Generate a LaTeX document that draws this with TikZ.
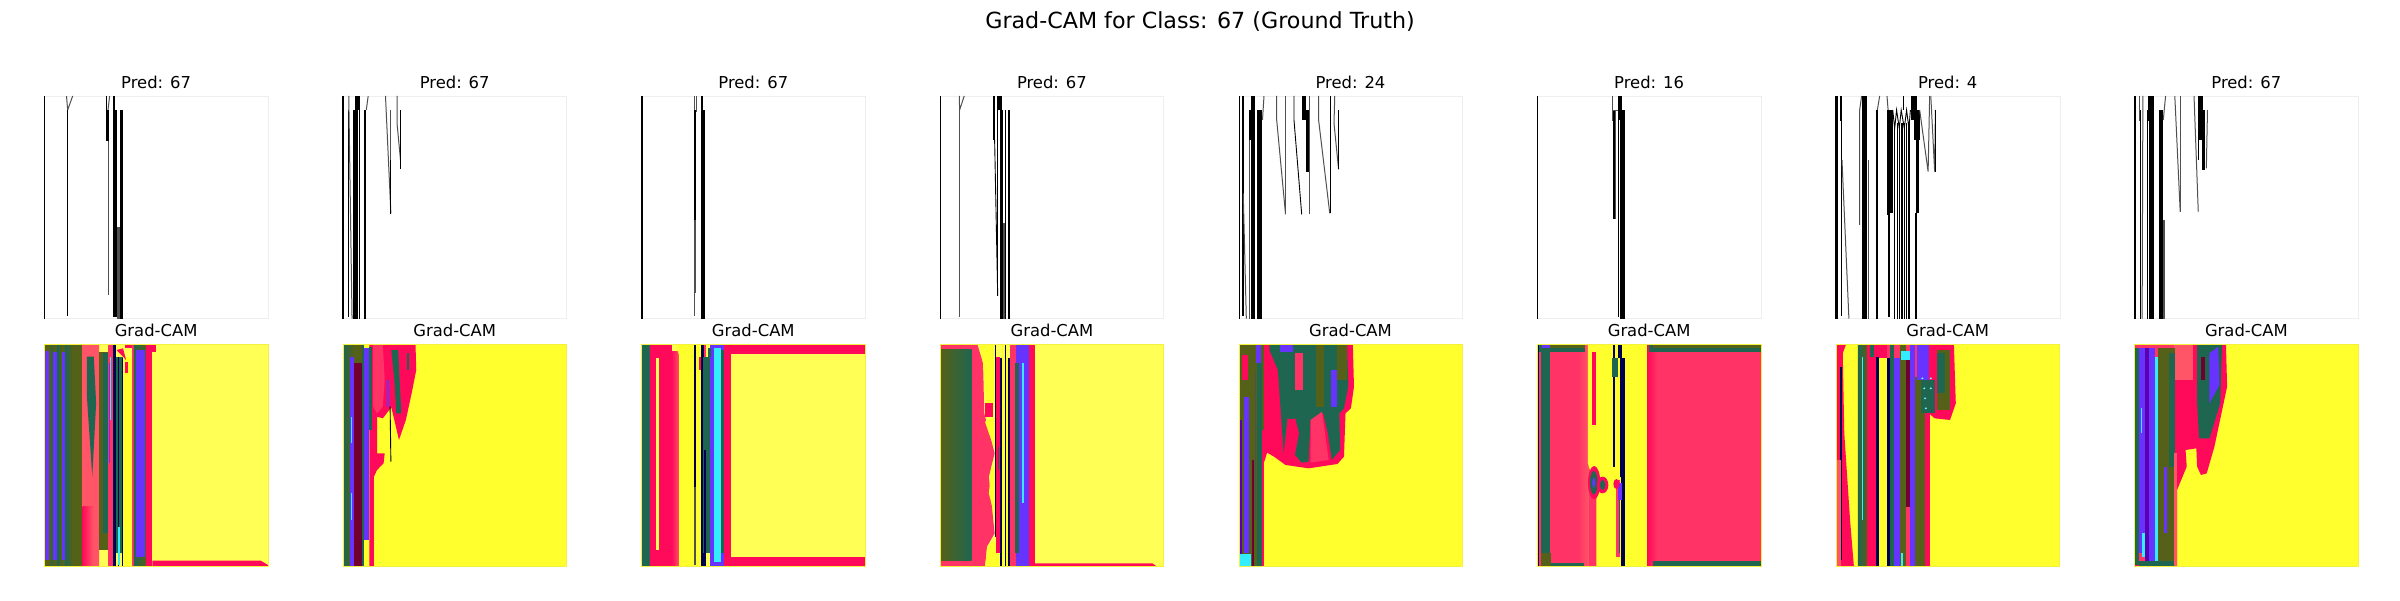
\documentclass[tikz,border=0pt]{standalone}
\usepackage{fontspec}
\setmainfont{DejaVu Sans}
\definecolor{ybr}{HTML}{FFFF2D}
\definecolor{ylt}{HTML}{FFFF55}
\definecolor{crim}{HTML}{FF0A5A}
\definecolor{pnk}{HTML}{FF3366}
\definecolor{pk2}{HTML}{FF5566}
\definecolor{teal}{HTML}{1F6650}
\definecolor{oliv}{HTML}{556018}
\definecolor{purp}{HTML}{6633FF}
\definecolor{dpur}{HTML}{5A00B0}
\definecolor{navy}{HTML}{000050}
\definecolor{cyn}{HTML}{33EEFF}
\definecolor{dred}{HTML}{700030}
\definecolor{frm}{HTML}{EEEEEE}
\definecolor{yfr}{HTML}{F4F040}
\definecolor{gy}{HTML}{505050}
\newcommand\Rc[5]{\fill[#1] (#2,#4) rectangle (#3,#5);}
\newcommand\Sh[6]{\shade[left color=#1,right color=#2,shading angle=90] (#3,#5) rectangle (#4,#6);}
\newcommand\Pg[2]{\fill[#1] #2 -- cycle;}
\tikzset{
 pan/.style n args={3}{shift={({#1pt-#2*0.3845pt},{-(#3)*1pt})},x=0.3845pt,y=-0.3333pt},
 tk/.style={draw=black,line width=.9pt},
 tg/.style={draw=gy,line width=1pt},
 md/.style={draw=black,line width=1.5pt},
 ttl/.style={anchor=base,inner sep=0pt,font=\fontsize{16.4}{20}\selectfont,text=black},
 sup/.style={anchor=base,inner sep=0pt,font=\fontsize{22.2}{26}\selectfont,text=black},
 fr/.style={draw=frm,line width=.8pt},
 fy/.style={draw=yfr,line width=.8pt}
}
\begin{document}
\begin{tikzpicture}[x=1pt,y=-1pt]
\useasboundingbox[fill=white] (0,0) rectangle (2400,600);
\node[sup] (title) at (1200,28) {Grad-CAM for Class: 67 (Ground Truth)};
\foreach \n/\L/\t in {1/44.6/67,2/343.2/67,3/641.8/67,4/940.4/67,5/1239/24,6/1537.6/16,7/1836.2/4,8/2134.8/67}{
 \node[ttl] (p\n) at (\L+111.5,88) {Pred: \t};
 \node[ttl] (g\n) at (\L+111.5,336) {Grad-CAM};
}
% ---- top row ----
\begin{scope}[pan={44.6}{119}{60}]
\draw[fr] (119,108) rectangle (700,776);
\draw[md] (119,108)--(119,776);
\draw[tg] (176,108)--(179,150)--(192,108);
\draw[md] (178,150)--(178,768);
\Rc{black}{279}{286}{150}{242}
\draw[tk] (279,108)--(279,150);\draw[tg] (288,108)--(284,150);
\draw[tg] (285,242)--(285,706);
\Rc{black}{296}{302}{108}{150}
\Rc{black}{297}{308}{150}{772}
\Rc{gy}{308}{314}{500}{776}
\Rc{black}{314}{322}{150}{776}
\end{scope}
\begin{scope}[pan={343.2}{897}{60}]
\draw[fr] (897,108) rectangle (1478,776);
\draw[md] (897,108)--(897,776);
\draw[tk] (910,150)--(910,770);\draw[tg] (912,108)--(912,150)--(920,776);
\Rc{black}{928}{941}{108}{150}
\Rc{black}{923}{935}{150}{776}
\Rc{black}{937}{941}{150}{776}
\Rc{black}{950}{956}{150}{776}
\draw[tg] (962,108)--(957,150);
\draw[tg] (1007,108)--(1021,460);\draw[tk] (1021,300)--(1021,462);\draw[tg] (1021,150)--(1021,300);
\draw[tg] (1037,108)--(1037,190)--(1046,300);
\draw[tk] (1046,150)--(1046,328);
\end{scope}
\begin{scope}[pan={641.8}{107}{60}]
\draw[fr] (107,108) rectangle (688,776);
\draw[md] (107,108)--(107,776);
\draw[tg] (243,108)--(243,768);\draw[tg] (250,108)--(250,155);
\Rc{black}{243}{249}{150}{480}
\Rc{gy}{245}{249}{480}{700}
\Rc{black}{261}{267}{108}{180}
\Rc{black}{262}{272}{150}{776}
\end{scope}
\begin{scope}[pan={940.4}{889}{60}]
\draw[fr] (889,108) rectangle (1470,776);
\draw[md] (889,108)--(889,776);
\draw[tg] (938,108)--(939,150)--(951,108);
\draw[tg] (939,150)--(939,770);
\Rc{black}{1026}{1031}{108}{240}
\draw[tk] (1030,240)--(1038,708);\draw[tk] (1038,108)--(1038,708);
\Rc{black}{1040}{1048}{108}{150}
\Rc{black}{1045}{1052}{150}{776}
\Rc{gy}{1052}{1056}{490}{776}
\draw[tk] (1057,150)--(1057,776);
\Rc{black}{1064}{1069}{150}{776}
\end{scope}
\begin{scope}[pan={1239}{99}{60}]
\draw[fr] (99,108) rectangle (681,776);
\Rc{black}{99}{102}{108}{776}
\Rc{black}{106}{111}{108}{768}
\draw[tg] (110,400)--(118,776);
\Rc{black}{130}{141}{108}{150}
\Rc{black}{125}{140}{150}{240}
\Rc{black}{131}{140}{240}{776}
\draw[tg] (126,240)--(126,776);
\Rc{black}{147}{158}{150}{776}
\draw[tg] (164,108)--(160,180);
\draw[tg] (197,108)--(197,180)--(220,463);\draw[tg] (221,108)--(221,463);
\draw[tk] (242,108)--(242,180)--(262,463);
\Rc{black}{262}{274}{108}{180}
\Rc{black}{272}{281}{150}{335}
\draw[tg] (283,108)--(283,463);
\draw[tg] (306,108)--(306,180)--(335,460);\draw[tk] (336,108)--(336,460);
\draw[tg] (348,108)--(346,190)--(358,328);\draw[tk] (358,150)--(358,328);
\end{scope}
\begin{scope}[pan={1537.6}{879}{60}]
\draw[fr] (879,108) rectangle (1460,776);
\draw[md] (879,108)--(879,776);
\draw[tg] (1074,108)--(1074,182);\draw[tg] (1081,150)--(1081,476);
\Rc{black}{1074}{1079}{150}{476}
\draw[tg] (1072,152)--(1090,152);
\Rc{black}{1087}{1098}{108}{180}
\draw[tk] (1090,150)--(1090,770);
\Rc{black}{1093}{1105}{150}{240}
\Rc{black}{1093}{1106}{240}{776}
\end{scope}
\begin{scope}[pan={1836.2}{89}{60}]
\draw[fr] (89,108) rectangle (671,776);
\draw[md] (89,108)--(89,776);\draw[tk] (92,108)--(92,776);
\Rc{black}{99}{104}{108}{182}
\draw[tk] (103,182)--(103,768);\draw[tg] (104,300)--(122,776);
\draw[tg] (150,495)--(150,150)--(155,108);
\Rc{black}{155}{168}{108}{235}
\Rc{black}{157}{168}{235}{776}
\draw[tg] (172,300)--(172,776);
\Rc{black}{193}{198}{150}{776}
\draw[tg] (202,108)--(196,150);
\draw[tg] (221,108)--(224,150);
\Rc{black}{221}{229}{150}{465}
\Rc{black}{223}{229}{465}{770}
\Rc{black}{230}{236}{150}{460}
\draw[tk] (236,150)--(241,205)--(246,150)--(253,205)--(258,150)--(266,205)--(272,150)--(278,205)--(282,150);
\foreach \q in {241,248,254,260,267,272,278}{\draw[md] (\q,190)--(\q,776);}
\draw[tk] (265,108)--(265,150);
\Rc{black}{284}{298}{108}{180}
\Rc{black}{290}{306}{150}{240}
\Rc{black}{296}{303}{240}{460}
\draw[md] (297,460)--(297,776);
\draw[tg] (306,150)--(328,335)--(332,108);
\draw[tg] (335,108)--(345,335)--(347,150);
\draw[md] (347,150)--(347,335);
\end{scope}
\begin{scope}[pan={2134.8}{868}{60}]
\draw[fr] (868,108) rectangle (1449,776);
\draw[md] (868,108)--(868,776);
\draw[tg] (880,108)--(880,182);\draw[tk] (883,150)--(883,776);
\draw[tg] (889,108)--(887,776);
\Rc{black}{899}{902}{150}{776}
\Rc{black}{902}{918}{108}{182}
\Rc{black}{906}{917}{182}{776}
\Rc{black}{932}{941}{150}{776}
\Rc{gy}{941}{947}{480}{776}
\draw[tg] (948,108)--(942,180);
\draw[tg] (972,108)--(986,455);\draw[tg] (987,108)--(987,455);
\draw[tg] (1022,108)--(1033,455);\draw[tk] (1033,108)--(1033,300);
\Rc{black}{1036}{1045}{108}{240}
\Rc{black}{1043}{1050}{150}{330}
\draw[tg] (1057,150)--(1054,325);
\end{scope}
% ---- bottom row ----
\begin{scope}[pan={44.6}{118}{320}]
\clip (118,72) rectangle (699,740);
\Rc{ylt}{118}{699}{72}{740}
\Rc{oliv}{118}{217}{72}{740}
\Sh{purp}{purp}{118}{130}{95}{720}\Sh{oliv}{teal}{130}{140}{72}{740}
\Rc{purp}{140}{152}{95}{720}\Sh{teal}{oliv}{152}{162}{72}{740}
\Rc{purp}{162}{172}{95}{720}\Sh{teal}{oliv}{172}{190}{72}{740}
\Sh{pk2}{pk2}{217}{260}{72}{740}
\Sh{crim}{pk2}{217}{245}{560}{740}
\Pg{teal}{(228,110)--(246,110)--(252,250)--(242,470)--(228,230)}
\Rc{oliv}{260}{283}{95}{690}
\Rc{teal}{270}{283}{100}{640}
\Rc{pnk}{283}{297}{72}{740}
\Rc{teal}{296}{322}{112}{700}
\Rc{navy}{297}{303}{72}{740}
\Rc{purp}{285}{289}{130}{430}
\Rc{cyn}{288}{290}{110}{300}
\Rc{navy}{308}{312}{110}{740}
\Rc{cyn}{310}{313}{620}{735}
\Rc{navy}{318}{322}{115}{740}
\Rc{ybr}{322}{345}{110}{740}
\Pg{crim}{(305,90)--(322,85)--(330,120)--(322,110)}
\Rc{crim}{328}{345}{72}{85}
\Rc{crim}{328}{335}{125}{160}
\Rc{pnk}{345}{352}{72}{740}
\Sh{teal}{oliv}{350}{382}{72}{740}
\Rc{purp}{356}{378}{90}{710}
\Rc{crim}{382}{398}{72}{740}
\Rc{crim}{398}{408}{72}{95}
\Pg{crim}{(398,722)--(680,722)--(699,735)--(699,740)--(398,740)}
\end{scope}
\draw[fy] (44.6,344) rectangle ++(223.4,222.7);
\begin{scope}[pan={343.2}{897}{320}]
\clip (897,72) rectangle (1478,740);
\Rc{ybr}{897}{1478}{72}{740}
\Pg{crim}{(965,72)--(1085,72)--(1087,150)--(1075,220)--(1060,300)--(1042,360)--(1030,300)--(1022,262)--(1000,295)--(985,290)--(985,400)--(1005,400)--(1002,430)--(985,450)--(977,470)--(977,740)--(965,740)}
\Pg{pnk}{(975,72)--(1000,72)--(1005,180)--(1000,260)--(985,280)--(975,260)}
\Sh{teal}{oliv}{897}{925}{72}{740}
\Rc{purp}{915}{925}{110}{740}
\Rc{dred}{925}{945}{72}{740}
\Rc{oliv}{925}{945}{72}{130}
\Rc{purp}{945}{965}{85}{660}
\Rc{teal}{945}{950}{72}{740}
\Rc{teal}{965}{972}{80}{330}
\Rc{cyn}{916}{918}{290}{370}
\Rc{cyn}{917}{919}{520}{600}
\Pg{teal}{(1022,90)--(1040,90)--(1048,280)--(1035,280)--(1030,180)}
\Rc{teal}{1064}{1069}{100}{150}
\Rc{purp}{1012}{1015}{180}{260}
\draw[tk] (1019,260)--(1021,425);
\end{scope}
\draw[fy] (343.2,344) rectangle ++(223.4,222.7);
\begin{scope}[pan={641.8}{107}{320}]
\clip (107,72) rectangle (688,740);
\Rc{ylt}{107}{688}{72}{740}
\Rc{teal}{107}{128}{72}{740}
\Sh{crim}{crim}{128}{185}{72}{740}
\Sh{crim}{pk2}{185}{205}{95}{740}
\Rc{ylt}{145}{152}{115}{690}
\Rc{ybr}{203}{243}{95}{740}
\Pg{ybr}{(195,72)--(243,72)--(243,100)--(205,110)}
\Rc{navy}{243}{248}{72}{500}
\Rc{gy}{243}{248}{500}{735}
\Rc{ybr}{248}{262}{72}{740}
\Rc{navy}{261}{268}{72}{740}
\Rc{crim}{255}{262}{110}{150}
\Rc{pnk}{268}{275}{72}{110}
\Rc{teal}{265}{288}{110}{700}
\Rc{navy}{268}{274}{390}{740}
\Rc{purp}{285}{322}{72}{740}
\Rc{teal}{278}{288}{85}{110}
\Rc{cyn}{296}{314}{85}{725}
\Rc{teal}{313}{322}{90}{700}
\Rc{crim}{322}{340}{72}{740}
\Rc{crim}{340}{688}{72}{101}
\Rc{crim}{340}{688}{710}{740}
\end{scope}
\draw[fy] (641.8,344) rectangle ++(223.4,222.7);
\begin{scope}[pan={940.4}{889}{320}]
\clip (889,72) rectangle (1470,740);
\Rc{ylt}{889}{1470}{72}{740}
\Pg{pnk}{(889,72)--(985,72)--(1000,130)--(1003,280)--(1030,400)--(1015,470)--(1030,640)--(1010,680)--(1005,740)--(889,740)}
\Pg{ybr}{(990,72)--(1030,72)--(1030,260)--(1008,250)--(1000,130)}
\Pg{ybr}{(1005,305)--(1030,290)--(1032,390)--(1015,340)}
\Pg{ybr}{(1022,440)--(1032,440)--(1035,610)--(1015,520)}
\Pg{ybr}{(1012,680)--(1030,660)--(1048,740)--(1005,740)}
\Rc{crim}{1005}{1025}{250}{290}
\Sh{oliv}{teal}{889}{970}{88}{722}
\Rc{navy}{1030}{1034}{72}{650}
\Rc{crim}{1034}{1045}{110}{700}
\Rc{navy}{1045}{1050}{115}{740}
\Rc{ybr}{1050}{1057}{72}{740}
\Rc{navy}{1057}{1060}{72}{740}
\Rc{ybr}{1060}{1065}{115}{740}
\Rc{navy}{1065}{1069}{115}{740}
\Rc{teal}{1039}{1042}{380}{450}
\Rc{pnk}{1069}{1085}{72}{740}
\Rc{purp}{1085}{1120}{72}{740}
\Rc{teal}{1084}{1094}{130}{700}
\Rc{cyn}{1100}{1106}{130}{550}
\Rc{crim}{1120}{1135}{72}{740}
\Pg{crim}{(1135,730)--(1440,730)--(1450,738)--(1135,738)}
\end{scope}
\draw[fy] (940.4,344) rectangle ++(223.4,222.7);
\begin{scope}[pan={1239}{99}{320}]
\clip (99,72) rectangle (681,740);
\Rc{ybr}{99}{681}{72}{740}
\Pg{crim}{(160,72)--(395,72)--(398,200)--(390,265)--(376,280)--(372,410)--(355,432)--(280,445)--(220,435)--(190,410)--(172,398)--(165,425)--(160,425)}
\Pg{teal}{(195,72)--(380,72)--(383,200)--(372,265)--(360,280)--(362,390)--(340,420)--(330,340)--(318,280)--(300,292)--(285,300)--(280,425)--(262,428)--(245,405)--(240,300)--(225,295)--(215,400)--(200,150)--(178,90)--(178,72)}
\Pg{crim}{(230,300)--(245,295)--(255,340)--(245,400)--(232,375)}
\Pg{pnk}{(285,300)--(315,275)--(332,420)--(285,428)}
\Rc{purp}{338}{355}{150}{262}
\Rc{purp}{205}{240}{72}{95}
\Rc{oliv}{355}{380}{72}{180}
\Rc{oliv}{300}{320}{72}{260}
\Rc{pnk}{245}{265}{100}{210}
\Rc{oliv}{99}{165}{72}{740}
\Rc{dpur}{99}{107}{300}{740}
\Rc{purp}{112}{125}{230}{700}
\Rc{crim}{107}{122}{105}{180}
\Rc{oliv}{125}{140}{72}{740}
\Rc{dred}{132}{138}{420}{740}
\Rc{purp}{142}{155}{72}{130}
\Rc{teal}{145}{160}{130}{740}
\Rc{crim}{160}{165}{330}{740}
\Rc{cyn}{100}{130}{702}{740}
\draw[tg] (141,150)--(141,600);
\end{scope}
\draw[fy] (1239,344) rectangle ++(223.4,222.7);
\begin{scope}[pan={1537.6}{879}{320}]
\clip (879,72) rectangle (1460,740);
\Rc{pnk}{879}{1460}{72}{740}
\Sh{pnk}{pk2}{985}{1012}{72}{740}
\Pg{ybr}{(1010,72)--(1165,72)--(1165,740)--(1032,740)--(1032,520)--(1010,430)}
\Sh{crim}{pnk}{1165}{1190}{72}{740}
\Rc{crim}{1020}{1032}{95}{315}
\Rc{teal}{879}{1003}{72}{97}
\Rc{oliv}{900}{1003}{72}{85}
\Rc{purp}{890}{910}{72}{85}
\Rc{teal}{888}{910}{85}{740}
\Rc{navy}{879}{882}{72}{740}
\Rc{teal}{888}{1000}{728}{738}
\Rc{oliv}{888}{915}{700}{740}
\Rc{teal}{1168}{1460}{72}{97}
\Rc{oliv}{1180}{1460}{72}{85}
\Rc{teal}{1180}{1460}{724}{738}
\Rc{navy}{1074}{1079}{72}{440}
\Rc{teal}{1073}{1087}{115}{170}
\Rc{navy}{1088}{1098}{72}{115}
\Rc{navy}{1092}{1105}{115}{470}
\Rc{navy}{1095}{1105}{470}{740}
\Rc{pnk}{1084}{1094}{480}{710}
\Rc{purp}{1089}{1098}{490}{540}
\Rc{teal}{1090}{1094}{540}{700}
\fill[crim] (1026,488) ellipse (16 and 50);
\fill[teal] (1025,488) ellipse (10 and 35);
\fill[purp] (1025,488) ellipse (4 and 15);
\fill[crim] (1048,495) ellipse (15 and 25);
\fill[teal] (1048,495) ellipse (7 and 15);
\fill[crim] (1084,492) ellipse (8 and 15);
\end{scope}
\draw[fy] (1537.6,344) rectangle ++(223.4,222.7);
\begin{scope}[pan={1836.2}{89}{320}]
\clip (89,72) rectangle (671,740);
\Rc{ybr}{89}{671}{72}{740}
\Pg{crim}{(89,72)--(115,72)--(106,100)--(110,340)--(125,600)--(135,740)--(89,740)}
\Rc{navy}{100}{104}{140}{720}
\Rc{pk2}{89}{102}{420}{740}
\Rc{crim}{145}{205}{72}{740}
\Sh{teal}{oliv}{145}{170}{72}{740}
\Rc{cyn}{155}{158}{110}{600}
\Rc{crim}{170}{192}{72}{740}
\Rc{teal}{178}{188}{72}{110}
\Rc{navy}{193}{199}{110}{740}
\Rc{ybr}{199}{220}{115}{740}
\Rc{crim}{199}{220}{72}{115}
\Rc{pnk}{220}{330}{72}{740}
\Rc{navy}{220}{228}{115}{740}
\Rc{teal}{228}{240}{72}{740}
\Rc{purp}{240}{255}{115}{740}
\Rc{oliv}{255}{270}{72}{740}
\Rc{dred}{270}{280}{110}{560}
\Rc{purp}{280}{295}{72}{740}
\Rc{cyn}{258}{280}{93}{120}
\Rc{cyn}{258}{262}{700}{740}
\Rc{oliv}{295}{320}{170}{740}
\Rc{crim}{320}{332}{280}{740}
\Rc{purp}{298}{330}{72}{180}
\Pg{crim}{(330,72)--(395,72)--(400,250)--(385,300)--(345,295)--(330,280)}
\Rc{oliv}{352}{385}{90}{270}
\Rc{teal}{352}{372}{100}{220}
\Rc{teal}{310}{345}{180}{280}
\foreach \q/\r in {313/175,335/175,318/205,335/205,320/235,322/265}{\fill[cyn!70!white] (\q,\r) ellipse (3 and 3);}
\end{scope}
\draw[fy] (1836.2,344) rectangle ++(223.4,222.7);
\begin{scope}[pan={2134.8}{868}{320}]
\clip (868,72) rectangle (1449,740);
\Rc{ybr}{868}{1449}{72}{740}
\Rc{pnk}{868}{978}{72}{740}
\Pg{crim}{(970,72)--(1105,72)--(1108,200)--(1075,380)--(1055,460)--(1040,465)--(1030,440)--(1028,385)--(1000,390)--(1003,440)--(985,490)--(978,510)--(978,740)--(970,740)}
\Rc{pk2}{970}{1020}{72}{180}
\Pg{crim}{(1000,200)--(1030,200)--(1035,320)--(1000,380)}
\Pg{teal}{(1030,72)--(1095,72)--(1090,250)--(1062,355)--(1035,355)--(1030,250)}
\Pg{purp}{(1062,100)--(1085,80)--(1088,195)--(1062,250)}
\Rc{dred}{1040}{1050}{110}{180}
\Rc{teal}{868}{880}{85}{735}
\Rc{purp}{880}{895}{85}{700}
\Rc{cyn}{884}{887}{265}{340}
\Rc{cyn}{887}{897}{640}{710}
\Rc{dpur}{895}{905}{85}{735}
\Rc{purp}{905}{921}{85}{735}
\Rc{cyn}{921}{928}{110}{735}
\Rc{oliv}{928}{972}{85}{740}
\Rc{teal}{958}{972}{100}{440}
\Rc{purp}{945}{952}{440}{640}
\Rc{teal}{868}{970}{722}{740}
\Rc{pk2}{970}{978}{400}{740}
\Rc{crim}{868}{880}{735}{740}
\end{scope}
\draw[fy] (2134.8,344) rectangle ++(223.4,222.7);
\end{tikzpicture}
\end{document}
